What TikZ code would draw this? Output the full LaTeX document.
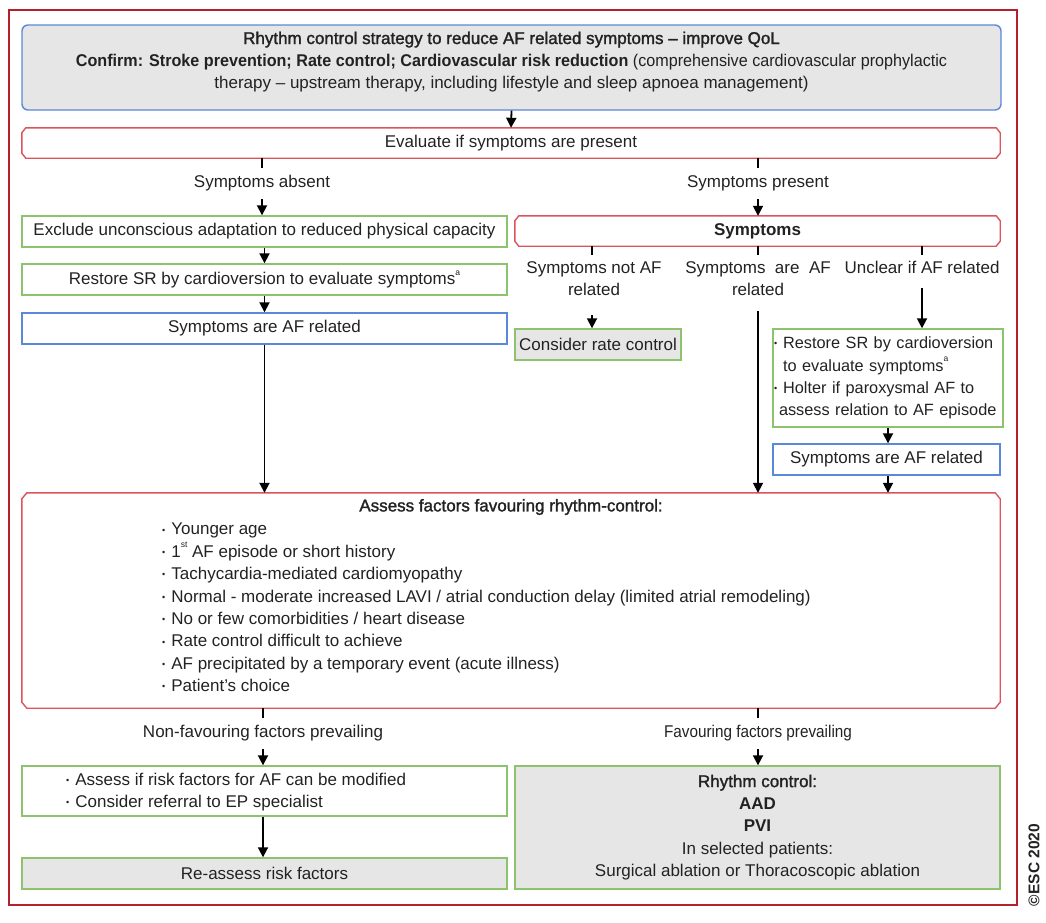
\documentclass[tikz,border=0pt]{standalone}
\usepackage{fontspec}
\setmainfont{Liberation Sans}
\newfontface\medfont{Liberation Sans}[FakeBold=1.6]
\usetikzlibrary{arrows.meta}
\definecolor{framered}{HTML}{B5202E}
\definecolor{boxred}{HTML}{D9545C}
\definecolor{boxblue}{HTML}{5B88D8}
\definecolor{boxgreen}{HTML}{8DC26F}
\definecolor{boxgray}{HTML}{E6E6E6}
\definecolor{txt}{HTML}{222222}
\newcommand\fs{\fontsize{17}{22.4}\selectfont}
\newcommand\bul{{\fontsize{9}{9}\selectfont\raisebox{0.4ex}{•}}\hspace{6pt}}
\newcommand\supx[1]{\raisebox{1.1ex}{\fontsize{8.5}{8.5}\selectfont #1}}
\newcommand\chamfer[3]{\draw[boxred, line width=1.4pt] ([xshift=#2]#1.north west) -- ([xshift=-#2]#1.north east) -- ([yshift=-#3]#1.north east) -- ([yshift=#3]#1.south east) -- ([xshift=-#2]#1.south east) -- ([xshift=#2]#1.south west) -- ([yshift=#3]#1.south west) -- ([yshift=-#3]#1.north west) -- cycle;}
\begin{document}
\begin{tikzpicture}[x=1pt,y=-1pt,
  every node/.style={font=\fs, text=txt},
  boxbase/.style={draw, line width=1.4pt, inner sep=0pt, rectangle},
  gbox/.style={boxbase, draw=boxgreen},
  bbox/.style={boxbase, draw=boxblue},
  rbox/.style={inner sep=0pt, rectangle},
  lbl/.style={inner xsep=0pt, inner ysep=8pt, text height=12pt, text depth=3.5pt},
  lbl2/.style={anchor=north, align=center, inner xsep=0pt, inner ysep=6pt},
  arr/.style={line width=1.8pt, -{Triangle[length=10pt,width=10pt]}},
  tick/.style={line width=1.8pt}
]
\useasboundingbox (0,0) rectangle (1046,922);
% outer frame
\draw[framered, line width=2.4pt] (9,10) rectangle (1017,905);
\node[rotate=90, font=\fontsize{15.5}{15.5}\selectfont\bfseries] (copy) at (1034,865) {©ESC 2020};

% top box
\node[bbox, fill=boxgray, rounded corners=6pt, minimum width=979pt, minimum height=85pt] (top) at (511.5,67.5) {};
\node[align=center, inner sep=0pt] (toptext) at (511.5,62) {{\medfont Rhythm control strategy to reduce AF related symptoms – improve QoL}\\
\scalebox{0.95}[1]{\textbf{Confirm: Stroke prevention; Rate control; Cardiovascular risk reduction} (comprehensive cardiovascular prophylactic}\\
therapy – upstream therapy, including lifestyle and sleep apnoea management)};

% evaluate
\node[rbox, minimum width=978pt, minimum height=30pt] (eval) at (511,143) {Evaluate if symptoms are present};
\chamfer{eval}{4pt}{5pt}
\node[lbl] (absent) at (262,183.5) {Symptoms absent};
\node[lbl] (present) at (758,183.5) {Symptoms present};

% left column
\node[gbox, minimum width=485pt, minimum height=31pt] (excl) at (264.5,231.5) {Exclude unconscious adaptation to reduced physical capacity};
\node[gbox, minimum width=485pt, minimum height=31pt] (restore) at (264.5,279.5) {Restore SR by cardioversion to evaluate symptoms\supx{a}};
\node[bbox, minimum width=485pt, minimum height=31pt] (afrel1) at (264.5,328.5) {Symptoms are AF related};

% right column
\node[rbox, minimum width=485pt, minimum height=30pt, font=\fs\bfseries] (symp) at (757.5,231) {Symptoms};
\chamfer{symp}{4pt}{5pt}
\node[lbl2] (notaf) at (594,255) {Symptoms not AF\\related};
\node[lbl2] (areaf) at (758,255) {Symptoms\ \ are\ \ AF\\related};
\node[lbl2] (unclear) at (922,255) {Unclear if AF related};
\node[gbox, fill=boxgray, minimum width=166pt, minimum height=31pt] (rate) at (598,344.5) {Consider rate control};
\node[gbox, minimum width=230pt, minimum height=98pt, text width=228pt, align=left, inner xsep=1pt,
      font=\fontsize{16.3}{22.4}\selectfont] (holter) at (888,378)
 {\bul Restore SR by cardioversion\\
  \hphantom{\bul}to evaluate symptoms\supx{a}\\
  \bul Holter if paroxysmal AF to\\
  \hspace*{5pt}assess relation to AF episode};
\node[bbox, minimum width=227pt, minimum height=31pt] (afrel2) at (886.5,459.5) {Symptoms are AF related};

% assess
\node[rbox, minimum width=978pt, minimum height=215pt] (assess) at (511,600.5) {};
\chamfer{assess}{5pt}{6pt}
\node[inner sep=0pt, font=\fs\medfont] (assesst) at (511,507) {Assess factors favouring rhythm-control:};
\node[anchor=north west, align=left, inner sep=0pt] (factors) at (162,523)
 {\bul Younger age\\
  \bul 1\supx{st} AF episode or short history\\
  \bul Tachycardia-mediated cardiomyopathy\\
  \bul Normal - moderate increased LAVI / atrial conduction delay (limited atrial remodeling)\\
  \bul No or few comorbidities / heart disease\\
  \bul Rate control difficult to achieve\\
  \bul AF precipitated by a temporary event (acute illness)\\
  \bul Patient’s choice};

\node[lbl] (nonfav) at (263,733.5) {Non-favouring factors prevailing};
\node[lbl, xscale=0.9] (fav) at (758,733.5) {Favouring factors prevailing};

% bottom
\node[gbox, minimum width=485pt, minimum height=50pt] (risk) at (264.5,791) {};
\node[anchor=west, align=left, inner sep=0pt] (riskt) at (66,792)
 {\bul Assess if risk factors for AF can be modified\\
  \bul Consider referral to EP specialist};
\node[gbox, fill=boxgray, minimum width=485pt, minimum height=31pt] (reassess) at (264.5,873.5) {Re-assess risk factors};
\node[gbox, fill=boxgray, minimum width=485pt, minimum height=123pt, align=center] (rc) at (757.5,827.5)
 {{\medfont Rhythm control:}\\
  \textbf{AAD}\\
  \textbf{PVI}\\
  In selected patients:\\
  Surgical ablation or Thoracoscopic ablation};

% connectors
\draw[arr] (top.south) -- (eval.north);
\draw[tick] (eval.south -| absent) -- (absent.north);
\draw[tick] (eval.south -| present) -- (present.north);
\draw[arr] (absent.south) -- (absent.south |- excl.north);
\draw[arr] (present.south) -- (present.south |- symp.north);
\draw[arr] (excl.south) -- (restore.north);
\draw[arr] (restore.south) -- (afrel1.north);
\draw[arr] (afrel1.south) -- (afrel1.south |- assess.north);

\draw[tick] (symp.south -| 592,0) -- (notaf.north -| 592,0);
\draw[tick] (symp.south -| areaf) -- (areaf.north);
\draw[tick] (symp.south -| unclear) -- (unclear.north);
\draw[arr, shorten <=13pt] (notaf.south -| 592,0) -- (rate.north -| 592,0);
\draw[arr, shorten <=9pt] (areaf.south) -- (areaf.south |- assess.north);
\draw[arr, shorten <=8pt] (unclear.south) -- (unclear.south |- holter.north);
\draw[arr] (holter.south) -- (holter.south |- afrel2.north);
\draw[arr] (holter.south |- afrel2.south) -- (holter.south |- assess.north);

\draw[tick] (assess.south -| nonfav) -- (nonfav.north);
\draw[tick] (assess.south -| fav) -- (fav.north);
\draw[arr] (nonfav.south) -- (nonfav.south |- risk.north);
\draw[arr] (fav.south) -- (fav.south |- rc.north);
\draw[arr] (nonfav.south |- risk.south) -- (nonfav.south |- reassess.north);
\end{tikzpicture}
\end{document}
